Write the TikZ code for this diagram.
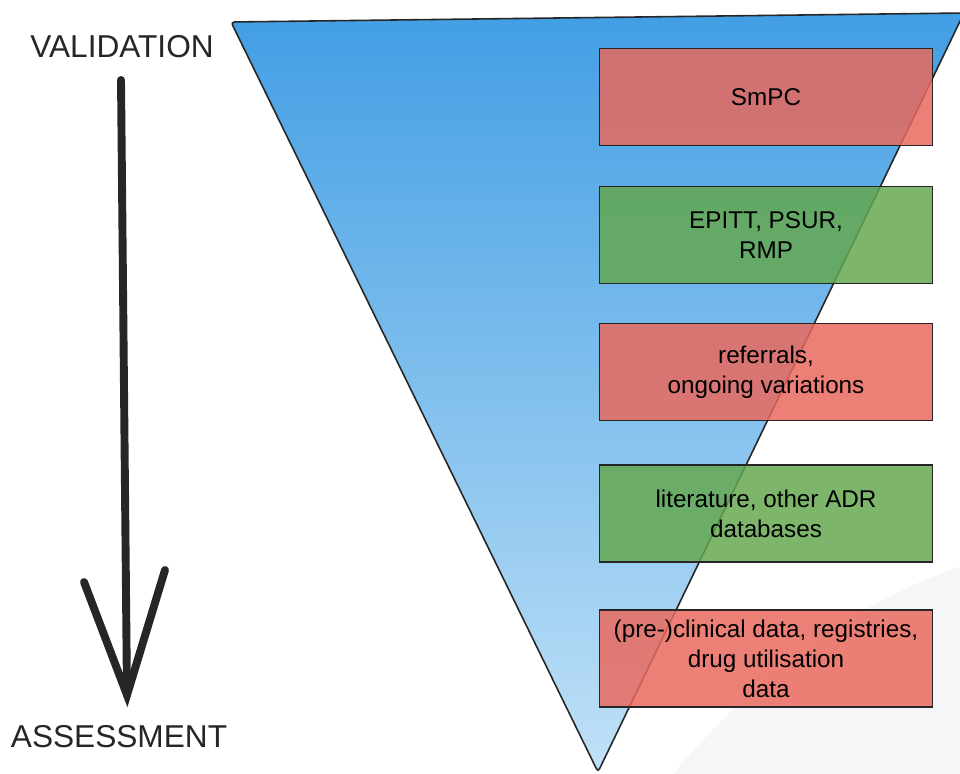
\documentclass[tikz,border=0pt]{standalone}
\usepackage{fontspec}
\setmainfont{Liberation Sans}
\usepackage{tikz}
\usetikzlibrary{positioning}
\definecolor{funneltop}{RGB}{66,158,228}
\definecolor{funnelbot}{RGB}{192,225,247}
\definecolor{srcred}{RGB}{234,104,92}
\definecolor{srcgreen}{RGB}{100,168,78}
\definecolor{inkgrey}{RGB}{38,38,38}
\definecolor{bgswoosh}{RGB}{245,246,248}

\begin{document}
\begin{tikzpicture}[x=0.02cm, y=-0.02cm,
    source/.style = {draw=inkgrey, line width=0.9pt, fill opacity=0.84, text opacity=1,
        minimum width=6.66cm, minimum height=1.94cm, align=center,
        font=\fontsize{13.8}{17}\selectfont},
    redsrc/.style = {source, fill=srcred},
    greensrc/.style = {source, fill=srcgreen},
    stage/.style = {text=inkgrey, font=\fontsize{18}{22}\selectfont},
    stroke/.style = {draw=inkgrey, line width=4.5pt, line cap=round}]
    \useasboundingbox (0,0) rectangle (960,774);
    \fill[bgswoosh] (673,774) .. controls (760,670) and (860,600) .. (960,567) -- (960,774) -- cycle;

    \draw[line width=0.9pt, draw=inkgrey, top color=funneltop, bottom color=funnelbot,
        rounded corners=2pt] (964,13) -- (231,22) -- (598,772) -- cycle;

    \node[redsrc] (smpc) at (766,97) {SmPC};
    \node[greensrc, below=0.79cm of smpc] (epitt) {EPITT, PSUR,\\RMP};
    \node[redsrc, below=0.77cm of epitt] (referrals) {referrals,\\ongoing variations};
    \node[greensrc, below=0.86cm of referrals] (literature) {literature, other ADR\\databases};
    \node[redsrc, below=0.93cm of literature] (clinical) {(pre-)clinical data, registries,\\drug utilisation\\data};

    \node[stage] (validation) at (122,47) {VALIDATION};
    \node[stage] (assessment) at (119,737) {ASSESSMENT};

    \coordinate (shafttop) at (121,80);
    \coordinate (tip) at (127,695);
    \coordinate (barbl) at (84,582);
    \coordinate (barbr) at (165,570);
    \draw[stroke] (shafttop) -- (tip);
    \draw[stroke, line join=miter] (barbl) -- (tip) -- (barbr);
\end{tikzpicture}
\end{document}
